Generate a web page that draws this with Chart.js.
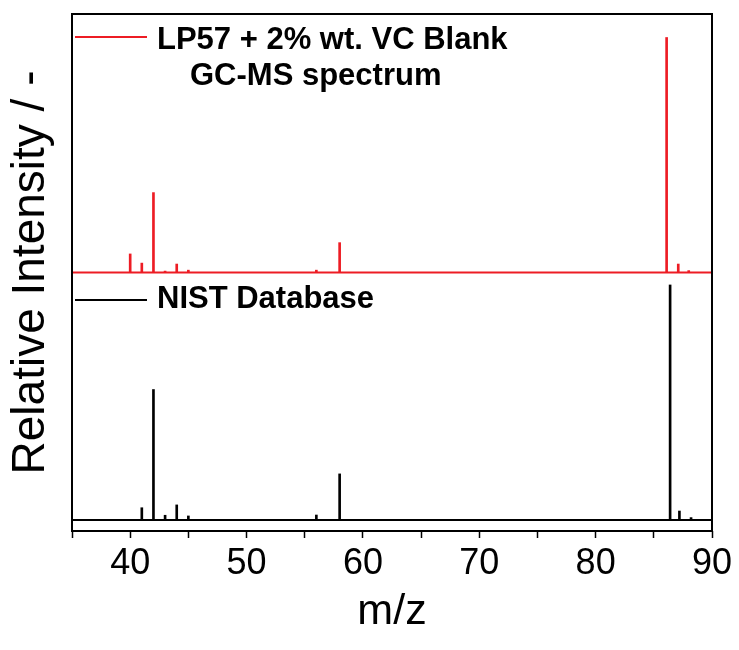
<!DOCTYPE html>
<html>
<head>
<meta charset="utf-8">
<script src="https://cdn.jsdelivr.net/npm/chart.js@4.4.0/dist/chart.umd.min.js"></script>
<style>
    html, body { margin: 0; padding: 0; background: #fff; }
    #wrap { width: 739px; height: 650px; }
</style>
</head>
<body>
<div id="wrap"><canvas id="msChart" width="739" height="650"></canvas></div>
<script>
/* ============================================
   DATA
============================================ */
const sampleLabel = ['LP57 + 2% wt. VC Blank', 'GC-MS spectrum'];
const sampleMz = [40, 41, 42, 43, 44, 45, 56, 58, 86.1, 87.1, 88];
const sampleInt = [7.9, 4.0, 34.0, 0.6, 3.6, 1.0, 1.0, 12.7, 100, 3.6, 0.8];
const sampleBase = 110;

const nistLabel = ['NIST Database'];
const nistMz = [41, 42, 43, 44, 45, 56, 58, 86.4, 87.2, 88.2];
const nistInt = [5.2, 55.5, 2.0, 6.4, 1.7, 2.1, 19.6, 100, 3.8, 1.0];
const nistBase = 4.7;

const xMin = 35, xMax = 90, xStep = 5;
const xLabelEvery = 10;

/* ============================================
   STYLE
============================================ */
const FONT = "'Liberation Sans', Arial, sans-serif";
const RED = 'rgb(237,28,36)';
const BLACK = '#000';

function stems(mz, inten, base) {
    return mz.map((m, i) => ({ x: m, y: [base, base + inten[i]] }));
}

function baseline(base) {
    return [{ x: xMin, y: base }, { x: xMax, y: base }];
}

/* frame around plot area */
const framePlugin = {
    id: 'frame',
    afterDatasetsDraw(chart) {
        const a = chart.chartArea;
        const c = chart.ctx;
        c.save();
        c.strokeStyle = BLACK;
        c.lineWidth = 2;
        c.strokeRect(a.left, a.top, a.right - a.left, a.bottom - a.top);
        c.restore();
    }
};

/* in-plot legend, one per panel */
const panelLegend = {
    id: 'panelLegend',
    afterDraw(chart) {
        const c = chart.ctx;
        const a = chart.chartArea;
        const items = [
            { ds: 0, lineY: a.top + 23, textY: a.top + 35, indent: [0, 33] },
            { ds: 2, lineY: a.top + 286, textY: a.top + 294, indent: [0] }
        ];
        c.save();
        c.font = 'bold 31px ' + FONT;
        c.textBaseline = 'alphabetic';
        c.fillStyle = BLACK;
        items.forEach(it => {
            const ds = chart.data.datasets[it.ds];
            c.strokeStyle = ds.backgroundColor;
            c.lineWidth = 2;
            c.beginPath();
            c.moveTo(a.left + 3, it.lineY);
            c.lineTo(a.left + 75, it.lineY);
            c.stroke();
            ds.legendLines.forEach((t, i) => {
                c.fillText(t, a.left + 85 + it.indent[i], it.textY + i * 36);
            });
        });
        c.restore();
    }
};

/* ============================================
   CHART
============================================ */
function initSpectrum() {
    const canvas = document.getElementById('msChart');
    if (!canvas) return;

    new Chart(canvas.getContext('2d'), {
        type: 'bar',
        data: {
            datasets: [
                {
                    label: sampleLabel.join(' '),
                    legendLines: sampleLabel,
                    data: stems(sampleMz, sampleInt, sampleBase),
                    backgroundColor: RED,
                    barThickness: 2,
                    grouped: false
                },
                {
                    type: 'line',
                    data: baseline(sampleBase),
                    borderColor: RED,
                    borderWidth: 2,
                    pointRadius: 0
                },
                {
                    label: nistLabel[0],
                    legendLines: nistLabel,
                    data: stems(nistMz, nistInt, nistBase),
                    backgroundColor: BLACK,
                    barThickness: 2,
                    grouped: false
                },
                {
                    type: 'line',
                    data: baseline(nistBase),
                    borderColor: BLACK,
                    borderWidth: 2,
                    pointRadius: 0
                }
            ]
        },
        options: {
            responsive: false,
            animation: false,
            layout: { padding: { top: 14, right: 27, left: 0, bottom: 0 } },
            plugins: {
                legend: { display: false },
                tooltip: { enabled: false }
            },
            scales: {
                x: {
                    type: 'linear',
                    min: xMin,
                    max: xMax,
                    offset: false,
                    grid: {
                        drawOnChartArea: false,
                        offset: false,
                        tickLength: 7,
                        tickWidth: 1.5,
                        color: BLACK
                    },
                    border: { display: false },
                    ticks: {
                        stepSize: xStep,
                        autoSkip: false,
                        maxRotation: 0,
                        padding: 4,
                        color: BLACK,
                        font: { family: FONT, size: 36 },
                        callback: v => (v % xLabelEvery === 0 ? v : '')
                    },
                    title: {
                        display: true,
                        text: 'm/z',
                        color: BLACK,
                        font: { family: FONT, size: 43 },
                        padding: { top: 0, bottom: 12 }
                    },
                    afterFit: s => { s.height = 119; }
                },
                y: {
                    min: 0,
                    max: 220,
                    grid: { display: false },
                    border: { display: false },
                    ticks: { display: false },
                    title: {
                        display: true,
                        text: 'Relative Intensity / -',
                        color: BLACK,
                        font: { family: FONT, size: 46 },
                        padding: { top: 4, bottom: 0 }
                    },
                    afterFit: s => { s.width = 72; }
                }
            }
        },
        plugins: [framePlugin, panelLegend]
    });
}

document.addEventListener('DOMContentLoaded', initSpectrum);
</script>
</body>
</html>
